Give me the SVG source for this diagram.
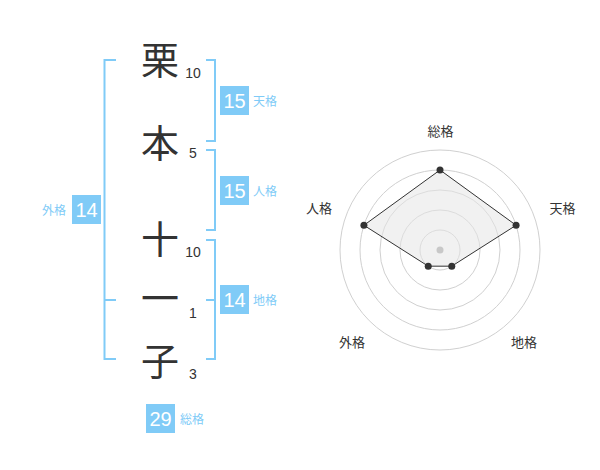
<svg xmlns="http://www.w3.org/2000/svg" width="600" height="470" viewBox="0 0 600 470">
<style>
.kan{font-family:"Noto Sans CJK JP","Noto Sans CJK SC",sans-serif;font-size:38px;fill:#333;text-anchor:middle}
.num{font-family:"Liberation Sans",Arial,sans-serif;font-size:14px;fill:#333;text-anchor:middle}
.br{fill:none;stroke:#80cbf7;stroke-width:2}
.box{fill:#80cbf7}
.bn{font-family:"Liberation Sans",Arial,sans-serif;font-size:20px;fill:#fff;text-anchor:middle}
.lb{font-family:"Noto Sans CJK JP","Noto Sans CJK SC",sans-serif;font-size:12px;fill:#80cbf7}
.ring{fill:none;stroke:#d0d0d0;stroke-width:1}
.rl{font-family:"Noto Sans CJK JP","Noto Sans CJK SC",sans-serif;font-size:13px;fill:#333;text-anchor:middle}
.dot{fill:#333}
</style>
<rect width="600" height="470" fill="#fff"/>
<g id="chars">
<g id="c1"><text class="kan" x="160" y="74">栗</text><text class="num" x="193" y="78">10</text></g>
<g id="c2"><text class="kan" x="160" y="157">本</text><text class="num" x="193" y="158">5</text></g>
<g id="c3"><text class="kan" x="160" y="253">十</text><text class="num" x="193" y="257">10</text></g>
<g id="c4"><text class="kan" x="160" y="312">一</text><text class="num" x="193" y="318">1</text></g>
<g id="c5"><text class="kan" x="160" y="375">子</text><text class="num" x="193" y="379">3</text></g>
</g>
<g id="brackets">
<path class="br" d="M116,60 H104.5 V359 H116 M104.5,300 H116"/>
<path class="br" d="M206,60 H215 V141 H206"/>
<path class="br" d="M206,150 H215 V230 H206"/>
<path class="br" d="M206,240 H215 V359 H206 M206,300 H215"/>
</g>
<g id="tenkaku"><rect class="box" x="220" y="86" width="29" height="29"/><text class="bn" x="234.5" y="108">15</text><text class="lb" x="253" y="106">天格</text></g>
<g id="jinkaku"><rect class="box" x="220" y="176" width="29" height="29"/><text class="bn" x="234.5" y="198">15</text><text class="lb" x="253" y="196">人格</text></g>
<g id="chikaku"><rect class="box" x="220" y="285" width="29" height="29"/><text class="bn" x="234.5" y="307">14</text><text class="lb" x="253" y="305">地格</text></g>
<g id="gaikaku"><rect class="box" x="72" y="195" width="29" height="29"/><text class="bn" x="86.5" y="217">14</text><text class="lb" x="66" y="215" text-anchor="end">外格</text></g>
<g id="soukaku"><rect class="box" x="146" y="404" width="29" height="29"/><text class="bn" x="160.5" y="426">29</text><text class="lb" x="180" y="424">総格</text></g>
<g id="radar">
<circle class="ring" cx="440" cy="250" r="20"/>
<circle class="ring" cx="440" cy="250" r="40"/>
<circle class="ring" cx="440" cy="250" r="60"/>
<circle class="ring" cx="440" cy="250" r="80"/>
<circle class="ring" cx="440" cy="250" r="100"/>
<polygon points="440,170 516.08,225.28 451.76,266.18 428.24,266.18 363.92,225.28" fill="#e6e6e6" fill-opacity="0.55" stroke="#333" stroke-width="1"/>
<circle cx="440" cy="250" r="3.5" fill="#c8c8c8"/>
<circle class="dot" cx="440" cy="170" r="3.5"/>
<circle class="dot" cx="516.08" cy="225.28" r="3.5"/>
<circle class="dot" cx="451.76" cy="266.18" r="3.5"/>
<circle class="dot" cx="428.24" cy="266.18" r="3.5"/>
<circle class="dot" cx="363.92" cy="225.28" r="3.5"/>
<text class="rl" x="440.5" y="136">総格</text>
<text class="rl" x="562.5" y="213">天格</text>
<text class="rl" x="319" y="213">人格</text>
<text class="rl" x="352" y="347">外格</text>
<text class="rl" x="524" y="347">地格</text>
</g>
</svg>
